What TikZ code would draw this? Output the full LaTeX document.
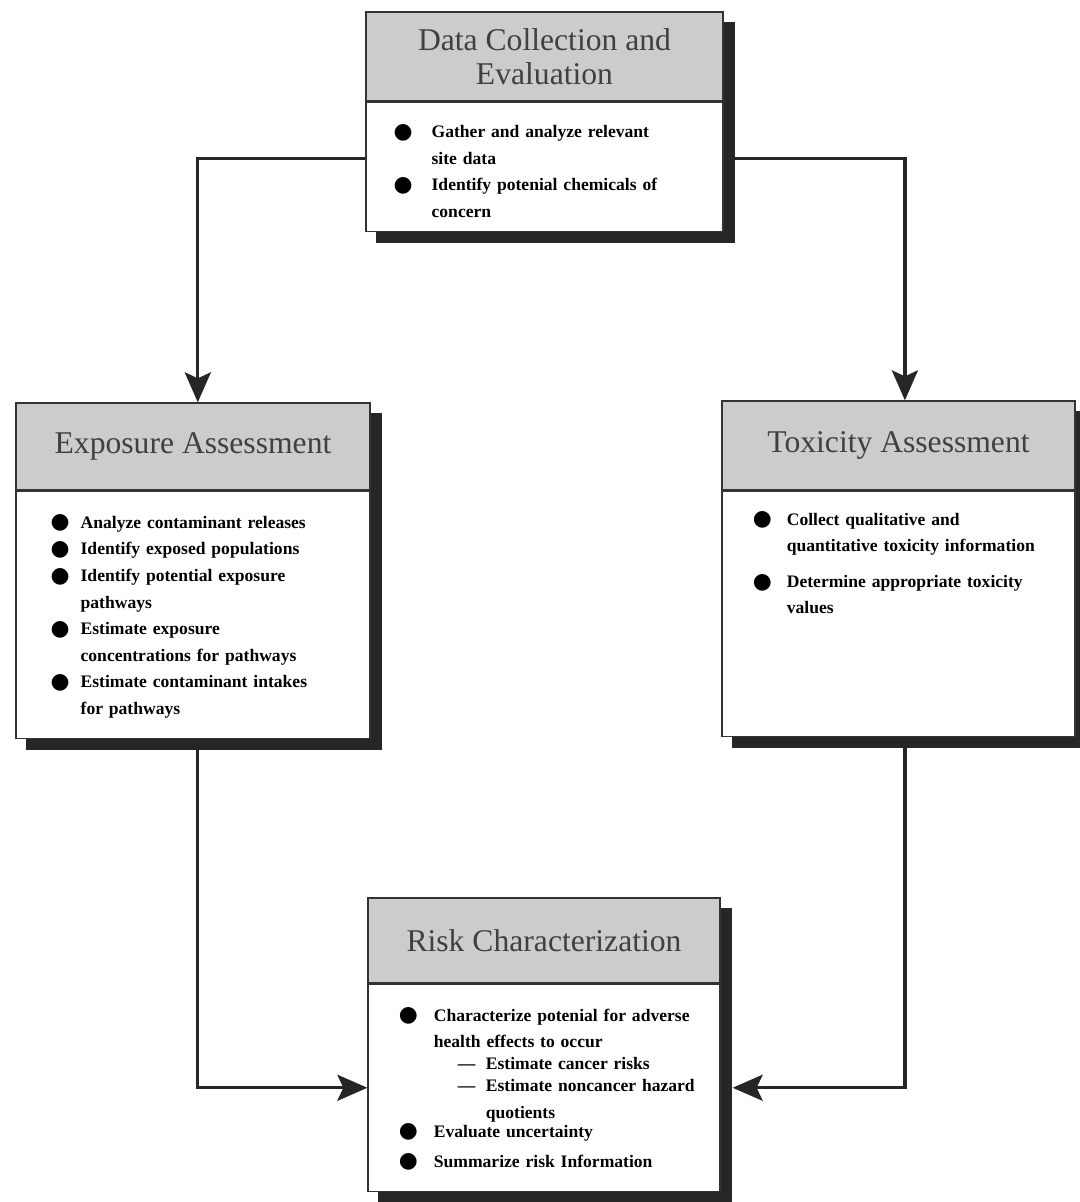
\documentclass[tikz,border=0pt]{standalone}
\usepackage{fontspec}
\setmainfont{Liberation Serif}
\newfontfamily\symfont{DejaVu Sans}
\usetikzlibrary{arrows.meta, positioning, backgrounds}

\newlength\bulind
\newcommand{\bul}{\raisebox{-0.5pt}{\symfont\fontsize{15.5}{15.5}\selectfont ●}}
\newcommand{\itm}[1]{\par\hangindent=\bulind\hangafter=1\noindent\makebox[\bulind][l]{\bul}#1}
\newcommand{\sbi}[1]{\par\hangindent=2.175cm\hangafter=1\noindent\hspace*{1.475cm}\makebox[0.7cm][l]{---}#1}
\newcommand{\firstline}{\rule{0pt}{13pt}}

\begin{document}
\begin{tikzpicture}[
  head/.style={draw=black!80, line width=0.9pt, fill=black!20, align=center,
               text=black!75, inner sep=0pt,
               font=\fontsize{22.5}{24}\selectfont},
  body/.style={draw=black!80, line width=0.9pt, fill=white, inner sep=0pt},
  list/.style={anchor=north west, text width=8cm, inner sep=0pt,
               font=\fontsize{12.5}{18.9}\selectfont\bfseries\raggedright},
  shadowfill/.style={fill=black!85},
  arr/.style={-{Stealth[length=0.75cm, width=0.65cm, inset=0.15cm]},
              line width=2.4pt, draw=black!85}
]
\useasboundingbox (0,0) rectangle (27,-30.05);

% data collection
\node[head, minimum width=8.925cm, minimum height=2.225cm] (datahead)
  at (13.6125,-1.4125) {Data Collection and\\Evaluation};
\node[body, below=0pt of datahead, minimum width=8.925cm, minimum height=3.225cm]
  (databody) {};
\node[list] (datalist) at ([xshift=0.7cm, yshift=-0.23cm]databody.north west)
  {\setlength\bulind{0.95cm}%
   \itm{\firstline Gather and analyze relevant\newline site data}
   \itm{Identify potenial chemicals of\newline concern}\par};

% exposure
\node[head, minimum width=8.85cm, minimum height=2.175cm] (exphead)
  at (4.825,-11.1625) {Exposure Assessment};
\node[body, below=0pt of exphead, minimum width=8.85cm, minimum height=6.175cm]
  (expbody) {};
\node[list] (explist) at ([xshift=0.875cm, yshift=-0.27cm]expbody.north west)
  {\setlength\bulind{0.75cm}%
   \itm{\firstline Analyze contaminant releases}
   \itm{Identify exposed populations}
   \itm{Identify potential exposure\newline pathways}
   \itm{Estimate exposure\newline concentrations for pathways}
   \itm{Estimate contaminant intakes\newline for pathways}\par};

% toxicity
\node[head, minimum width=8.825cm, minimum height=2.225cm] (toxhead)
  at (22.4625,-11.1375) {Toxicity Assessment};
\node[body, below=0pt of toxhead, minimum width=8.825cm, minimum height=6.125cm]
  (toxbody) {};
\node[list] (toxlist) at ([xshift=0.78cm, yshift=0.03cm]toxbody.north west)
  {\setlength\bulind{0.85cm}\setlength\parskip{6.4pt}%
   \itm{\firstline Collect qualitative and\newline quantitative toxicity information}
   \itm{Determine appropriate toxicity\newline values}\par};

% risk
\node[head, minimum width=8.8cm, minimum height=2.125cm] (riskhead)
  at (13.6,-23.5125) {Risk Characterization};
\node[body, below=0pt of riskhead, minimum width=8.8cm, minimum height=5.175cm]
  (riskbody) {};
\node[list] (risklist) at ([xshift=0.78cm, yshift=-0.27cm]riskbody.north west)
  {\setlength\bulind{0.875cm}%
   \itm{\firstline Characterize potenial for adverse\newline health effects to occur}
   \vspace{-3.3pt}\sbi{Estimate cancer risks}
   \vspace{-3.3pt}\sbi{Estimate noncancer hazard\newline quotients}
   \vspace{-5.4pt}\itm{Evaluate uncertainty}
   \vspace{2.4pt}\itm{Summarize risk Information}\par};

\begin{scope}[on background layer]
\foreach \h/\b in {datahead/databody, exphead/expbody, toxhead/toxbody, riskhead/riskbody}
  \fill[shadowfill] ([shift={(0.275,-0.275)}]\h.north west)
    rectangle ([shift={(0.275,-0.275)}]\b.south east);
\end{scope}

\draw[arr] ([yshift=0.2cm]databody.west) -| ([xshift=0.12cm]exphead.north);
\draw[arr] ([yshift=0.2cm]databody.east) -| ([xshift=0.16cm]toxhead.north);
\draw[arr] ([xshift=0.12cm]expbody.south) |- (riskbody.west);
\draw[arr, shorten >=0.3cm] ([xshift=0.16cm]toxbody.south) |- (riskbody.east);
\end{tikzpicture}
\end{document}
